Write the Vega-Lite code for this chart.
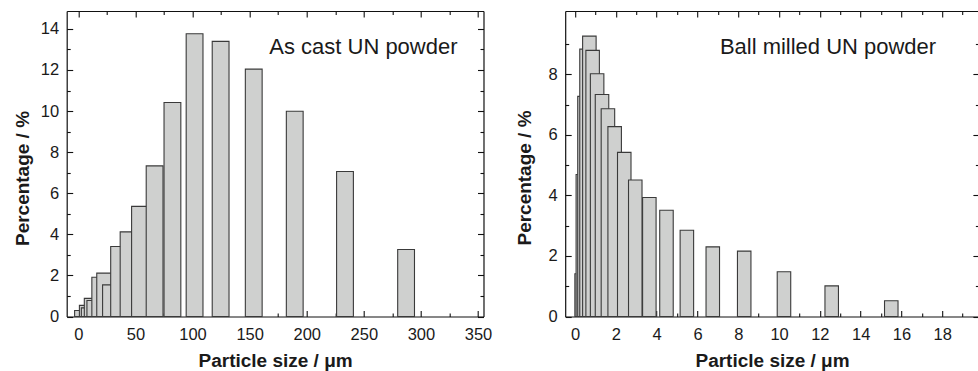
{
  "$schema": "https://vega.github.io/schema/vega-lite/v6.json",
  "background": "white",
  "padding": {"left": 13.7, "top": 10, "right": 0, "bottom": 8},
  "bounds": "flush",
  "spacing": 81.5,
  "config": {
    "view": {"stroke": null},
    "font": "Liberation Sans",
    "axis": {
      "grid": false,
      "domainColor": "#111",
      "domainWidth": 1.2,
      "tickColor": "#111",
      "tickWidth": 1.1,
      "labelFont": "Liberation Sans",
      "labelFontSize": 16.5,
      "labelColor": "#1a1a1a",
      "titleFont": "Liberation Sans",
      "titleFontSize": 19,
      "titleFontWeight": "bold",
      "titleColor": "#1a1a1a",
      "labelFlush": false,
      "labelOverlap": false,
      "labelBound": false,
      "zindex": 1
    }
  },
  "datasets": {
    "ascast": [
      {"size": 4.1, "pct": 0.29},
      {"size": 8.3, "pct": 0.54},
      {"size": 10.0, "pct": 0.42},
      {"size": 12.6, "pct": 0.88},
      {"size": 14.9, "pct": 0.78},
      {"size": 19.2, "pct": 1.91},
      {"size": 23.5, "pct": 2.11},
      {"size": 28.6, "pct": 1.54},
      {"size": 35.7, "pct": 3.41},
      {"size": 44.0, "pct": 4.12},
      {"size": 54.0, "pct": 5.36},
      {"size": 66.8, "pct": 7.33},
      {"size": 82.4, "pct": 10.42},
      {"size": 101.8, "pct": 13.76},
      {"size": 124.6, "pct": 13.39},
      {"size": 153.6, "pct": 12.04},
      {"size": 189.5, "pct": 9.99},
      {"size": 233.5, "pct": 7.06},
      {"size": 287.0, "pct": 3.26}
    ],
    "milled": [
      {"size": 0.32, "pct": 1.41},
      {"size": 0.38, "pct": 4.69},
      {"size": 0.46, "pct": 7.27},
      {"size": 0.56, "pct": 8.83},
      {"size": 0.70, "pct": 9.26},
      {"size": 0.86, "pct": 8.79},
      {"size": 1.08, "pct": 8.02},
      {"size": 1.32, "pct": 7.33},
      {"size": 1.61, "pct": 6.86},
      {"size": 1.94, "pct": 6.27},
      {"size": 2.41, "pct": 5.42},
      {"size": 2.95, "pct": 4.51},
      {"size": 3.64, "pct": 3.93},
      {"size": 4.48, "pct": 3.51},
      {"size": 5.48, "pct": 2.85},
      {"size": 6.75, "pct": 2.30},
      {"size": 8.29, "pct": 2.16},
      {"size": 10.24, "pct": 1.48},
      {"size": 12.58, "pct": 1.01},
      {"size": 15.50, "pct": 0.52}
    ]
  },
  "hconcat": [
    {
      "width": 416.8,
      "height": 305.5,
      "data": {"name": "ascast"},
      "layer": [
        {
          "mark": {"type": "bar", "width": 16.8, "fill": "#cfd0cf", "stroke": "#3a3a3a", "strokeWidth": 1.1},
          "encoding": {
            "x": {"field": "size", "type": "quantitative",
              "scale": {"domain": [-5.8, 350.4], "nice": false, "zero": false},
              "axis": {"orient": "bottom", "values": [0, 50, 100, 150, 200, 250, 300, 350], "tickSize": -6, "labelPadding": 16,
                "title": "Particle size / μm", "titleY": 50, "titleBaseline": "alphabetic"}},
            "y": {"field": "pct", "type": "quantitative",
              "scale": {"domain": [0, 14.87], "nice": false},
              "axis": {"orient": "left", "values": [0, 2, 4, 6, 8, 10, 12, 14], "tickSize": -6, "labelPadding": 14,
                "title": "Percentage / %", "titleX": -34, "titleY": 167, "titleBaseline": "bottom"}}
          }
        },
        {
          "data": {"values": [{"label": "As cast UN powder"}]},
          "mark": {"type": "text", "align": "right", "baseline": "alphabetic", "fontSize": 22, "font": "Liberation Sans", "color": "#1a1a1a"},
          "encoding": {
            "x": {"datum": 332, "type": "quantitative", "axis": null},
            "y": {"datum": 12.77, "type": "quantitative", "axis": null},
            "text": {"field": "label"}
          }
        },
        {
          "mark": {"type": "point", "opacity": 0},
          "encoding": {
            "x": {"field": "size", "type": "quantitative",
              "axis": {"orient": "bottom", "values": [25, 75, 125, 175, 225, 275, 325], "tickSize": -3.5, "labels": false, "domain": false, "title": null}},
            "y": {"field": "pct", "type": "quantitative",
              "axis": {"orient": "left", "values": [1, 3, 5, 7, 9, 11, 13], "tickSize": -3.5, "labels": false, "domain": false, "title": null}}
          }
        },
        {
          "mark": {"type": "point", "opacity": 0},
          "encoding": {
            "x": {"field": "size", "type": "quantitative",
              "axis": {"orient": "top", "values": [0, 50, 100, 150, 200, 250, 300, 350], "tickSize": -6, "labels": false, "title": null}},
            "y": {"field": "pct", "type": "quantitative",
              "axis": {"orient": "right", "values": [0, 2, 4, 6, 8, 10, 12, 14], "tickSize": -6, "labels": false, "title": null}}
          }
        },
        {
          "mark": {"type": "point", "opacity": 0},
          "encoding": {
            "x": {"field": "size", "type": "quantitative",
              "axis": {"orient": "top", "values": [25, 75, 125, 175, 225, 275, 325], "tickSize": -3.5, "labels": false, "domain": false, "title": null}},
            "y": {"field": "pct", "type": "quantitative",
              "axis": {"orient": "right", "values": [1, 3, 5, 7, 9, 11, 13], "tickSize": -3.5, "labels": false, "domain": false, "title": null}}
          }
        }
      ],
      "resolve": {"axis": {"x": "independent", "y": "independent"}}
    },
    {
      "width": 413.7,
      "height": 305.5,
      "data": {"name": "milled"},
      "layer": [
        {
          "mark": {"type": "bar", "width": 13.5, "fill": "#cfd0cf", "stroke": "#3a3a3a", "strokeWidth": 1.1},
          "encoding": {
            "x": {"field": "size", "type": "quantitative",
              "scale": {"domain": [-0.24, 19.55], "nice": false, "zero": false},
              "axis": {"orient": "bottom", "values": [0, 2, 4, 6, 8, 10, 12, 14, 16, 18], "tickSize": -6, "labelPadding": 16,
                "title": "Particle size / μm", "titleY": 50, "titleBaseline": "alphabetic"}},
            "y": {"field": "pct", "type": "quantitative",
              "scale": {"domain": [0, 10.09], "nice": false},
              "axis": {"orient": "left", "values": [0, 2, 4, 6, 8], "tickSize": -6, "labelPadding": 14,
                "title": "Percentage / %", "titleX": -31, "titleY": 166.5, "titleBaseline": "bottom"}}
          }
        },
        {
          "data": {"values": [{"label": "Ball milled UN powder"}]},
          "mark": {"type": "text", "align": "right", "baseline": "alphabetic", "fontSize": 22, "font": "Liberation Sans", "color": "#1a1a1a"},
          "encoding": {
            "x": {"datum": 17.7, "type": "quantitative", "axis": null},
            "y": {"datum": 8.66, "type": "quantitative", "axis": null},
            "text": {"field": "label"}
          }
        },
        {
          "mark": {"type": "point", "opacity": 0},
          "encoding": {
            "x": {"field": "size", "type": "quantitative",
              "axis": {"orient": "bottom", "values": [1, 3, 5, 7, 9, 11, 13, 15, 17, 19], "tickSize": -3.5, "labels": false, "domain": false, "title": null}},
            "y": {"field": "pct", "type": "quantitative",
              "axis": {"orient": "left", "values": [1, 3, 5, 7, 9], "tickSize": -3.5, "labels": false, "domain": false, "title": null}}
          }
        },
        {
          "mark": {"type": "point", "opacity": 0},
          "encoding": {
            "x": {"field": "size", "type": "quantitative",
              "axis": {"orient": "top", "values": [0, 2, 4, 6, 8, 10, 12, 14, 16, 18], "tickSize": -6, "labels": false, "title": null}},
            "y": {"field": "pct", "type": "quantitative",
              "axis": {"orient": "right", "values": [0, 2, 4, 6, 8], "tickSize": -6, "labels": false, "title": null}}
          }
        },
        {
          "mark": {"type": "point", "opacity": 0},
          "encoding": {
            "x": {"field": "size", "type": "quantitative",
              "axis": {"orient": "top", "values": [1, 3, 5, 7, 9, 11, 13, 15, 17, 19], "tickSize": -3.5, "labels": false, "domain": false, "title": null}},
            "y": {"field": "pct", "type": "quantitative",
              "axis": {"orient": "right", "values": [1, 3, 5, 7, 9], "tickSize": -3.5, "labels": false, "domain": false, "title": null}}
          }
        }
      ],
      "resolve": {"axis": {"x": "independent", "y": "independent"}}
    }
  ]
}
